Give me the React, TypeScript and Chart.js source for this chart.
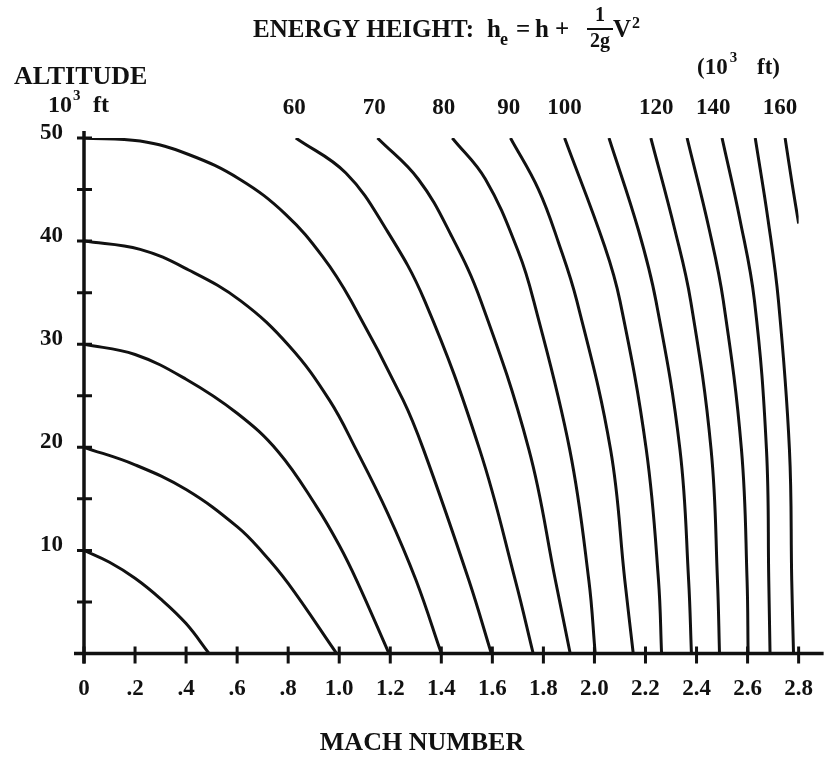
import React, { useEffect, useRef } from 'react';
import { Chart, registerables } from 'chart.js';

Chart.register(...registerables);

// Energy-height contours, 10^3 ft. Each point: [Mach number, altitude (10^3 ft)]
const energyHeights = [10, 20, 30, 40, 50, 60, 70, 80, 90, 100, 110, 120, 130, 140, 150, 160];

const he10: [number, number][] = [[0, 10], [0.1, 8.85], [0.2, 7.3], [0.3, 5.3], [0.4, 2.9], [0.49, 0]];
const he20: [number, number][] = [[0, 20], [0.2, 18.3], [0.4, 15.9], [0.6, 12.3], [0.7, 9.8], [0.8, 6.8], [0.99, 0]];
const he30: [number, number][] = [[0, 30], [0.2, 29.0], [0.4, 26.6], [0.6, 23.3], [0.76, 19.6], [0.91, 14.3], [1.0, 10.5], [1.07, 7.0], [1.195, 0]];
const he40: [number, number][] = [[0, 40], [0.22, 39.2], [0.41, 37.2], [0.614, 34.2], [0.805, 29.8], [0.961, 24.6], [1.066, 19.8], [1.19, 13.6], [1.301, 7.1], [1.4, 0]];
const he50: [number, number][] = [[0, 50], [0.22, 49.7], [0.41, 48.4], [0.61, 46.0], [0.79, 42.6], [0.935, 38.5], [1.047, 34.2], [1.25, 24.6], [1.33, 19.8], [1.508, 7.1], [1.596, 0]];
const he60: [number, number][] = [[0.83, 50], [1.026, 46.6], [1.185, 41.1], [1.335, 34.2], [1.55, 19.8], [1.69, 7.1], [1.76, 0]];
const he70: [number, number][] = [[1.15, 50], [1.31, 46.0], [1.44, 40.5], [1.555, 34.2], [1.743, 19.8], [1.847, 7.1], [1.905, 0]];
const he80: [number, number][] = [[1.443, 50], [1.573, 46.0], [1.703, 38.9], [1.762, 34.2], [1.903, 19.8], [1.978, 7.1], [2.003, 0]];
const he90: [number, number][] = [[1.671, 50], [1.781, 45.0], [1.86, 39.8], [1.931, 34.2], [2.063, 19.8], [2.119, 7.1], [2.152, 0]];
const he100: [number, number][] = [[1.883, 50], [2.04, 39.5], [2.1, 34.2], [2.203, 19.8], [2.251, 7.1], [2.263, 0]];
const he110: [number, number][] = [[2.057, 50], [2.172, 41.1], [2.241, 34.2], [2.335, 19.8], [2.369, 7.1], [2.38, 0]];
const he120: [number, number][] = [[2.221, 50], [2.315, 41.1], [2.377, 34.2], [2.457, 19.8], [2.482, 7.1], [2.49, 0]];
const he130: [number, number][] = [[2.363, 50], [2.45, 41.1], [2.505, 34.2], [2.576, 19.8], [2.598, 7.1], [2.602, 0]];
const he140: [number, number][] = [[2.5, 50], [2.57, 42.1], [2.627, 34.2], [2.674, 19.8], [2.683, 7.1], [2.688, 0]];
const he150: [number, number][] = [[2.63, 50], [2.68, 42.1], [2.721, 34.2], [2.764, 19.8], [2.773, 7.1], [2.78, 0]];
const he160: [number, number][] = [[2.747, 50], [2.775, 45.5], [2.8, 41.7]];

const curves = [he10, he20, he30, he40, he50, he60, he70, he80, he90, he100, he110, he120, he130, he140, he150, he160];

const xTickLabels = ['0', '.2', '.4', '.6', '.8', '1.0', '1.2', '1.4', '1.6', '1.8', '2.0', '2.2', '2.4', '2.6', '2.8'];
const yTickLabels = ['', '', '10', '', '20', '', '30', '', '40', '', '50'];

const curveLabels = ['60', '70', '80', '90', '100', '120', '140', '160'];
const curveLabelMach = [0.824, 1.137, 1.41, 1.664, 1.883, 2.242, 2.465, 2.727];

const FONT = '"Liberation Serif", "Times New Roman", serif';
const INK = '#111';

function text(ctx: CanvasRenderingContext2D, s: string, x: number, y: number, size: number, align: CanvasTextAlign = 'left', baseline: CanvasTextBaseline = 'alphabetic') {
  ctx.font = `bold ${size}px ${FONT}`;
  ctx.textAlign = align;
  ctx.textBaseline = baseline;
  ctx.fillStyle = INK;
  ctx.fillText(s, x, y);
  return ctx.measureText(s).width;
}

export default function App() {
  const ref = useRef<HTMLCanvasElement | null>(null);

  useEffect(() => {
    document.body.style.margin = '0';
    const canvas = ref.current!;

    const decor = {
      id: 'decor',
      afterDraw(chart: any) {
        const ctx: CanvasRenderingContext2D = chart.ctx;
        const xs = chart.scales.x;
        const ys = chart.scales.y;
        const x0 = xs.getPixelForValue(0);
        const y0 = ys.getPixelForValue(0);
        const yTop = ys.getPixelForValue(50);
        const xEnd = xs.getPixelForValue(2.8);
        ctx.save();
        ctx.strokeStyle = INK;
        ctx.lineCap = 'butt';
        // axes
        ctx.lineWidth = 3.5;
        ctx.beginPath();
        ctx.moveTo(x0, yTop - 7);
        ctx.lineTo(x0, y0 + 10);
        ctx.moveTo(x0 - 10, y0);
        ctx.lineTo(xEnd + 25, y0);
        ctx.stroke();
        // y ticks
        ctx.lineWidth = 3;
        ctx.beginPath();
        for (const t of ys.ticks) {
          const py = ys.getPixelForValue(t.value);
          ctx.moveTo(x0 - 7, py);
          ctx.lineTo(x0 + 8, py);
        }
        // x ticks
        for (const t of xs.ticks) {
          const px = xs.getPixelForValue(t.value);
          ctx.moveTo(px, y0 - 7);
          ctx.lineTo(px, y0 + 10);
        }
        ctx.stroke();

        // Title with formula
        const b = 37;
        text(ctx, 'ENERGY HEIGHT:', 253, b, 25);
        text(ctx, 'h', 487, b, 25);
        text(ctx, 'e', 500, b + 8, 18);
        text(ctx, '=', 516, b, 25);
        text(ctx, 'h', 535, b, 25);
        text(ctx, '+', 555, b, 25);
        text(ctx, '1', 600, 21, 20, 'center');
        ctx.lineWidth = 2;
        ctx.beginPath();
        ctx.moveTo(587, 29);
        ctx.lineTo(613, 29);
        ctx.stroke();
        text(ctx, '2g', 600, 47, 20, 'center');
        text(ctx, 'V', 613, b, 25);
        text(ctx, '2', 632, 28, 16);

        // Y axis title
        text(ctx, 'ALTITUDE', 14, 84, 26);
        let w = text(ctx, '10', 48, 112, 24);
        text(ctx, '3', 48 + w + 1, 100, 15);
        text(ctx, 'ft', 93, 112, 24);

        // Units for contour labels
        w = text(ctx, '(10', 697, 74, 23);
        text(ctx, '3', 697 + w + 2, 62, 15);
        text(ctx, 'ft)', 757, 74, 23);

        // contour labels
        curveLabels.forEach((lab, i) => {
          text(ctx, lab, xs.getPixelForValue(curveLabelMach[i]), chart.chartArea.top - 30, 23, 'center', 'middle');
        });

        // X axis title
        text(ctx, 'MACH NUMBER', 422, 743, 26, 'center', 'middle');
        ctx.restore();
      },
    };

    const chart = new Chart(canvas, {
      type: 'line',
      data: {
        datasets: curves.map((c, i) => ({
          label: `${energyHeights[i]}`,
          data: c.map(([x, y]) => ({ x, y })),
          borderColor: INK,
          borderWidth: 3,
          pointRadius: 0,
          fill: false,
          tension: 0.4,
        })),
      },
      options: {
        responsive: false,
        animation: false,
        events: [],
        layout: { padding: { top: 138, right: 35, left: 0, bottom: 0 } },
        plugins: {
          legend: { display: false },
          tooltip: { enabled: false },
          title: { display: false },
        },
        scales: {
          x: {
            type: 'linear',
            min: 0,
            max: 2.8,
            afterFit: (s: any) => { s.height = 104.5; },
            grid: { display: false, drawTicks: false, tickLength: 0 },
            border: { display: false },
            ticks: {
              stepSize: 0.2,
              autoSkip: false,
              maxRotation: 0,
              padding: 22,
              color: INK,
              font: { family: FONT, size: 23, weight: 'bold' },
              callback: (_v: any, i: number) => xTickLabels[i] ?? '',
            },
          },
          y: {
            type: 'linear',
            min: 0,
            max: 50,
            afterFit: (s: any) => { s.width = 84; },
            grid: { display: false, drawTicks: false, tickLength: 0 },
            border: { display: false },
            ticks: {
              stepSize: 5,
              autoSkip: false,
              padding: 21,
              labelOffset: -5,
              color: INK,
              font: { family: FONT, size: 23, weight: 'bold' },
              callback: (_v: any, i: number) => yTickLabels[i] ?? '',
            },
          },
        },
      },
      plugins: [decor],
    } as any);

    return () => chart.destroy();
  }, []);

  return <canvas ref={ref} width={835} height={758} style={{ display: 'block', width: 835, height: 758 }} />;
}
